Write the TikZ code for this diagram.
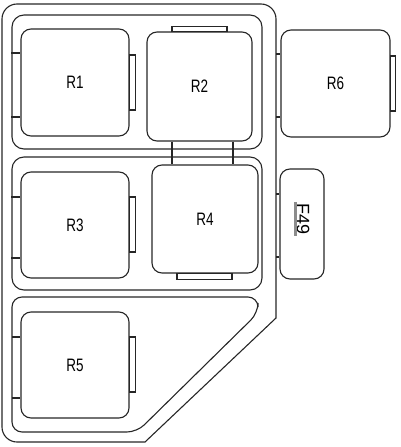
\documentclass[tikz,border=0pt]{standalone}
\usepackage{fontspec}
\setmainfont{Liberation Sans}
\begin{document}
\begin{tikzpicture}[x=1pt,y=-1pt,line width=1.1pt,draw=black!85,
  relay/.style={draw,rounded corners=10pt,inner sep=0pt,font=\fontsize{18}{18}\selectfont},
  group/.style={draw,rounded corners=12pt,inner sep=0pt},
  tab/.style={draw,fill=white}]
\useasboundingbox (0,0) rectangle (400,447);
% box outline
\draw[rounded corners=15pt] (2,200) -- (2,4) -- (276,4) -- (276,250) [sharp corners] -- (276,318) -- (145,442) -- (30,442) [rounded corners=15pt] -- (2,442) -- cycle;
\node[group,minimum width=250pt,minimum height=134pt] (g1) at (137,82) {};
\node[group,minimum width=250pt,minimum height=133pt] (g2) at (137,223.5) {};
\draw[rounded corners=10pt] (12,360) -- (12,297) -- (258,297) -- (258,313) -- (137,432) -- (12,432) -- cycle;
% relays
\node[relay,minimum width=108pt,minimum height=107pt] (r1) at (75,82.5) {\scalebox{0.75}[1]{R1}};
\node[relay,minimum width=105pt,minimum height=109pt] (r2) at (199.5,86.5) {\scalebox{0.75}[1]{R2}};
\node[relay,minimum width=108pt,minimum height=106pt] (r3) at (75,225) {\scalebox{0.75}[1]{R3}};
\node[relay,minimum width=106pt,minimum height=108pt] (r4) at (205,219) {\scalebox{0.75}[1]{R4}};
\node[relay,minimum width=108pt,minimum height=106pt] (r5) at (75,365) {\scalebox{0.75}[1]{R5}};
\node[relay,minimum width=109pt,minimum height=107pt] (r6) at (335.5,83.5) {\scalebox{0.75}[1]{R6}};
\node[relay,minimum width=44pt,minimum height=110pt] (f49) at (302,224) {};
\node[rotate=-90,inner sep=1pt,font=\fontsize{18}{18}\selectfont] (f49t) at (303,219) {F49};
\draw[black!45,line width=3pt] (f49t.south west) -- (f49t.south east);
% tabs
\draw[tab] (r1.east |- 0,55) rectangle ++(6,55);
\draw[tab] (r2.north -| 172,0) rectangle ++(55,-5);
\draw[tab] (r3.east |- 0,197) rectangle ++(6,55);
\draw[tab] (r4.south -| 177,0) rectangle ++(55,6);
\draw[tab] (r5.east |- 0,337) rectangle ++(6,55);
\draw[tab] (r6.east |- 0,56) rectangle ++(5,55);
% stubs
\foreach \y in {53,117} \draw (g1.west |- 0,\y) -- (r1.west |- 0,\y);
\foreach \y in {197,258} \draw (g2.west |- 0,\y) -- (r3.west |- 0,\y);
\foreach \y in {337,398} \draw (12,\y) -- (r5.west |- 0,\y);
\foreach \y in {54,117} \draw (276,\y) -- (r6.west |- 0,\y);
\foreach \y in {194,257} \draw (276,\y) -- (f49.west |- 0,\y);
\foreach \x in {172,233} \draw (r2.south -| \x,0) -- (r4.north -| \x,0);
\end{tikzpicture}
\end{document}
